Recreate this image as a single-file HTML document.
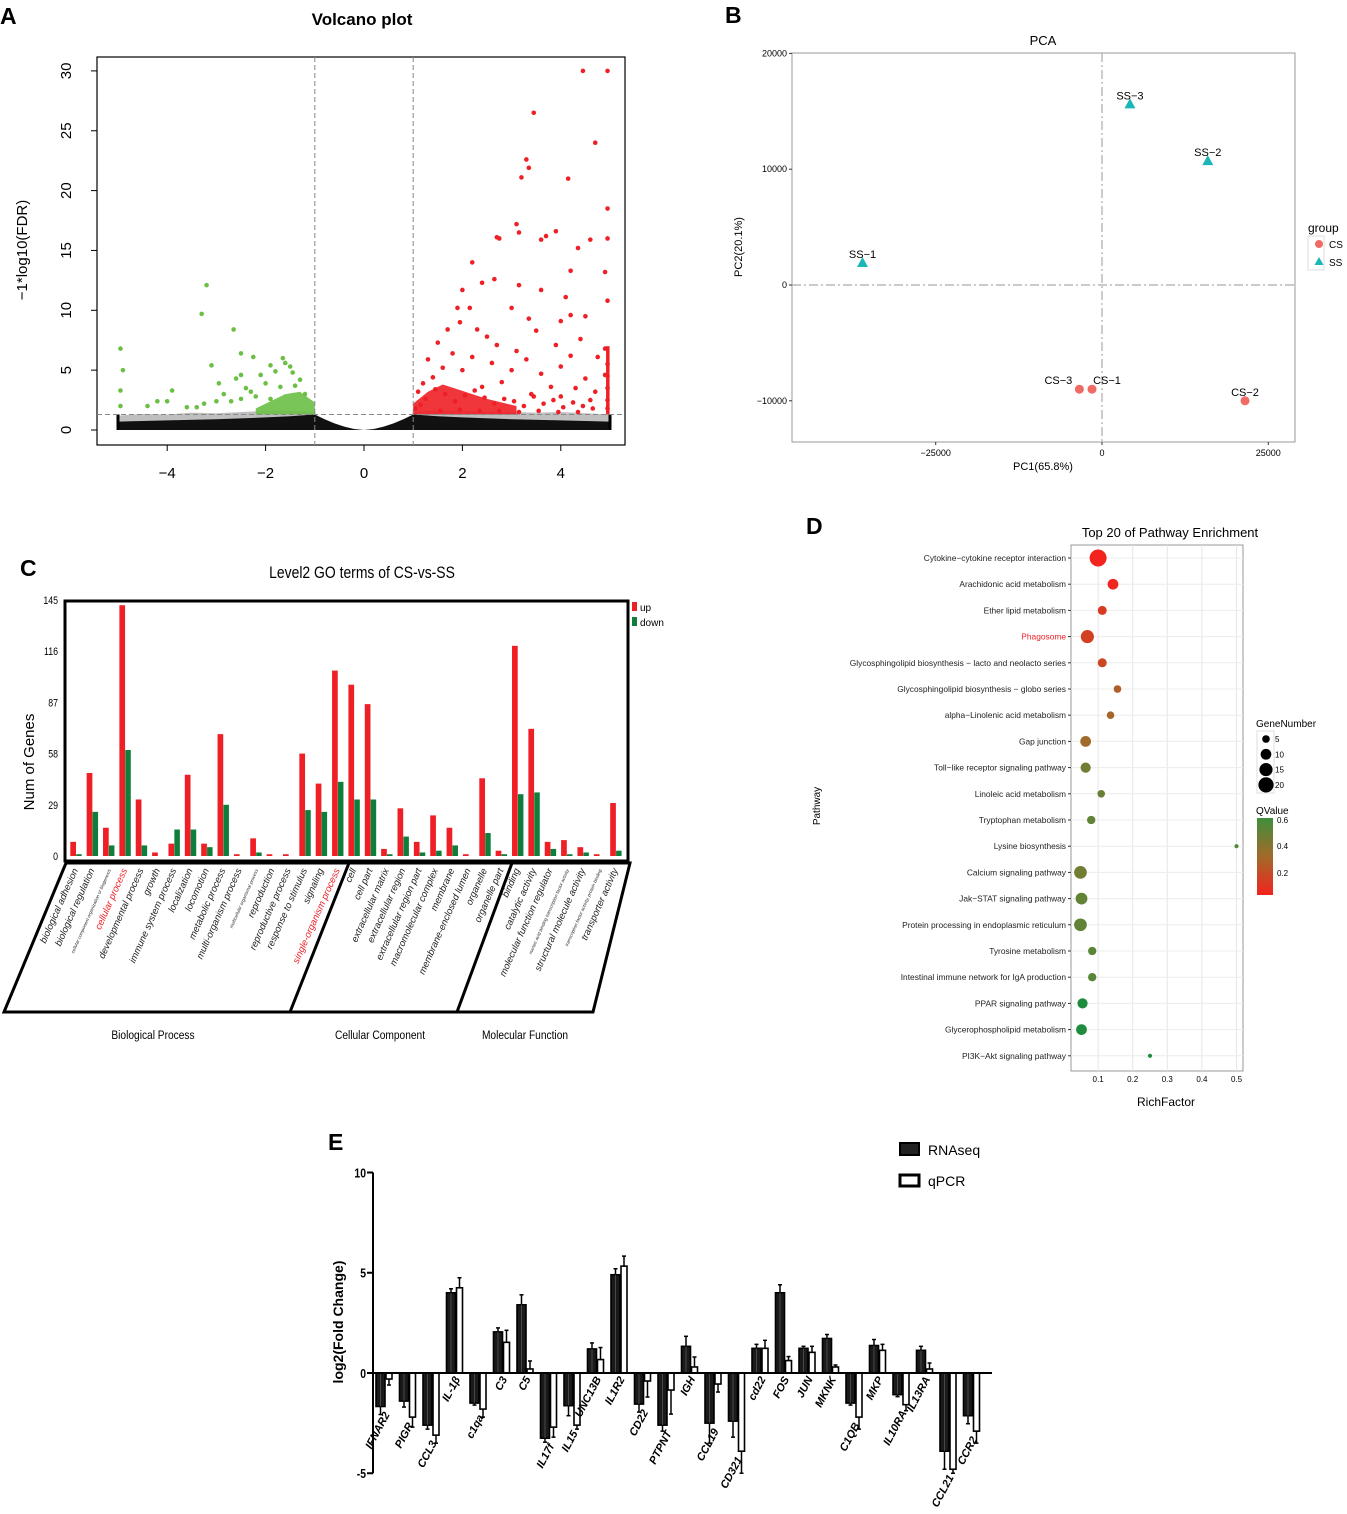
<!DOCTYPE html>
<html><head><meta charset="utf-8">
<style>
html,body{margin:0;padding:0;background:#fff;}
svg{display:block;font-family:"Liberation Sans",sans-serif;}
</style></head>
<body>
<svg id="fig" width="1347" height="1514" viewBox="0 0 1347 1514" xmlns="http://www.w3.org/2000/svg">
<rect x="0" y="0" width="1347" height="1514" fill="#fff"/>
<text x="0" y="24" font-size="23" font-weight="bold">A</text>
<text x="725" y="23" font-size="23" font-weight="bold">B</text>
<text x="20" y="576" font-size="23" font-weight="bold">C</text>
<text x="806" y="534" font-size="23" font-weight="bold">D</text>
<text x="328" y="1150" font-size="23" font-weight="bold">E</text>

<g id="pa">
<text x="362" y="25" font-size="17" font-weight="bold" text-anchor="middle">Volcano plot</text>
<text transform="translate(27,250) rotate(-90)" font-size="15" text-anchor="middle">−1*log10(FDR)</text>
</g>
<g id="pb">
<text x="1043" y="45" font-size="13" text-anchor="middle">PCA</text>
<text x="1043" y="470" font-size="11" text-anchor="middle">PC1(65.8%)</text>
<text transform="translate(742,247) rotate(-90)" font-size="11" text-anchor="middle">PC2(20.1%)</text>
<text x="1308" y="232" font-size="12">group</text>
<rect x="1308" y="236" width="16" height="34" fill="#fff" stroke="#ddd"/>
<circle cx="1319" cy="244" r="4" fill="#ef6b64"/>
<text x="1329" y="248" font-size="10">CS</text>
<polygon points="1319,257 1323.5,265 1314.5,265" fill="#1cb6b8"/>
<text x="1329" y="266" font-size="10">SS</text>
</g>
<g id="pc">
<text x="362" y="578" font-size="17" text-anchor="middle" transform="translate(362,0) scale(0.82,1) translate(-362,0)">Level2 GO terms of CS-vs-SS</text>
<text transform="translate(34,762) rotate(-90)" font-size="15" text-anchor="middle">Num of Genes</text>
<rect x="632" y="602" width="5" height="9" fill="#ee2026"/>
<text x="640" y="611" font-size="10">up</text>
<rect x="632" y="617" width="5" height="9" fill="#0e7f3a"/>
<text x="640" y="626" font-size="10">down</text>
<text x="153" y="1039" font-size="12" text-anchor="middle" transform="translate(153,0) scale(0.85,1) translate(-153,0)">Biological Process</text>
<text x="380" y="1039" font-size="12" text-anchor="middle" transform="translate(380,0) scale(0.85,1) translate(-380,0)">Cellular Component</text>
<text x="525" y="1039" font-size="12" text-anchor="middle" transform="translate(525,0) scale(0.85,1) translate(-525,0)">Molecular Function</text>
</g>
<g id="pd">
<text x="1170" y="537" font-size="13" text-anchor="middle">Top 20 of Pathway Enrichment</text>
<text x="1166" y="1106" font-size="12" text-anchor="middle">RichFactor</text>
<text transform="translate(820,806) rotate(-90)" font-size="10" text-anchor="middle">Pathway</text>
<text x="1256" y="727" font-size="10">GeneNumber</text>
<rect x="1257" y="731" width="17" height="62" fill="#fff" stroke="#ddd"/>
<text x="1256" y="814" font-size="10">QValue</text>
<defs><linearGradient id="qg" x1="0" y1="1" x2="0" y2="0"><stop offset="0" stop-color="#f3231e"/><stop offset="0.5" stop-color="#a26a2a"/><stop offset="1" stop-color="#3f8f3c"/></linearGradient></defs>
<rect x="1257" y="818" width="16" height="77" fill="url(#qg)"/>
<text x="1277" y="823" font-size="8">0.6</text>
<text x="1277" y="849" font-size="8">0.4</text>
<text x="1277" y="876" font-size="8">0.2</text>
</g>
<g id="pe">
<text transform="translate(343,1322) rotate(-90)" font-size="14" font-weight="bold" text-anchor="middle">log2(Fold Change)</text>
<rect x="900" y="1143" width="19" height="12" fill="#222" stroke="#000" stroke-width="2"/>
<text x="928" y="1155" font-size="14">RNAseq</text>
<rect x="900" y="1175" width="19" height="11" fill="#fff" stroke="#000" stroke-width="3"/>
<text x="928" y="1186" font-size="14">qPCR</text>
</g>
</svg>
<script>
var NS='http://www.w3.org/2000/svg';
var svg=document.getElementById('fig');
function mk(tag,parent,attrs){var e=document.createElementNS(NS,tag);for(var k in attrs)e.setAttribute(k,attrs[k]);(parent||svg).appendChild(e);return e;}

/* ===== Panel A data ===== */
var volXTicks=[-4,-2,0,2,4];
var volYTicks=[0,5,10,15,20,25,30];
var redX=[4.45,4.95,3.45,4.7,3.3,3.35,3.2,4.15,4.95,3.1,3.15,2.75,2.7,3.7,3.9,3.6,4.6,4.95,4.35,2.2,2.65,3.15,4.2,4.9,2.4,2.0,3.6,4.1,4.95,4.2,1.9,2.15,3.0,3.35,4.0,4.5,1.95,2.3,3.5,1.7,2.5,4.4,3.9,4.9,2.7,1.5,3.1,4.2,1.8,2.2,3.3,4.75,1.3,2.6,4.0,1.6,2.0,3.0,3.6,4.9,4.5,1.4,1.2,2.8,3.8,4.3,4.7,1.1,2.4,3.4,4.0,4.6,4.95,4.95,4.95,4.95,4.95,1.05,1.25,1.45,1.65,1.85,2.05,2.25,2.45,2.65,2.85,3.05,3.25,3.45,3.65,3.85,4.05,4.25,4.45,4.65,1.15,1.55,1.95,2.35,2.75,3.15,3.55,3.95,4.35];
var redY=[30,30,26.5,24,22.6,21.9,21.1,21,18.5,17.2,16.5,16,16.1,16.2,16.6,15.9,15.9,16,15.2,14,12.6,12.1,13.3,13.2,12.3,11.7,11.7,11.1,10.8,9.6,10.2,10.2,10.2,9.3,9.1,9.5,9,8.4,8.3,8.4,7.8,7.6,7.1,6.8,7.1,7.3,6.6,6.2,6.4,6.1,5.9,6.1,5.9,5.6,5.3,5.2,5.0,5.0,4.7,4.6,4.3,4.4,3.9,4.0,3.6,3.5,3.2,3.2,3.6,3.0,2.8,2.5,5.5,4.5,3.5,2.5,1.8,1.8,2.6,3.4,3.0,2.4,2.9,3.3,2.7,2.2,2.6,2.4,2.0,2.8,2.2,2.5,1.9,2.3,2.0,1.8,2.1,1.6,1.7,1.6,1.6,1.5,1.6,1.5,1.5];
var greenX=[-4.95,-4.9,-4.95,-4.95,-4.4,-4.2,-4.0,-3.9,-3.6,-3.4,-3.3,-3.25,-3.1,-3.0,-2.95,-3.2,-2.7,-2.65,-2.85,-2.5,-2.5,-2.4,-2.5,-2.25,-2.1,-2.6,-1.9,-2.0,-1.8,-1.65,-1.6,-1.5,-1.45,-1.3,-2.2,-1.7,-1.2,-1.4,-1.9,-2.3];
var greenY=[6.8,5.0,3.3,2.0,2.0,2.4,2.4,3.3,1.9,1.9,9.7,2.2,5.4,2.4,3.9,12.1,2.4,8.4,3.0,2.6,4.6,3.5,6.4,6.1,4.6,4.3,5.4,3.9,4.9,6.0,5.6,5.3,4.8,4.2,2.8,3.6,3.0,3.7,2.6,3.2];
var redDenseX=[1.0,1.3,1.6,1.9,2.2,2.5,2.8,3.1];
var redDenseTop=[2.2,3.2,3.8,3.4,3.0,2.6,2.3,2.0];
var greenDenseX=[-2.2,-1.9,-1.6,-1.3,-1.0];
var greenDenseTop=[1.8,2.4,3.0,3.2,2.3];
var blackX=[-5,-4,-3,-2,-1.5,-1,-0.8,-0.6,-0.4,-0.2,0,0.2,0.4,0.6,0.8,1,1.5,2,3,4,5];
var blackTop=[0.7,0.8,0.9,1.05,1.15,1.3,0.9,0.55,0.28,0.08,0,0.08,0.28,0.55,0.9,1.3,1.15,1.05,0.9,0.8,0.7];
var grayLeftX=[-5,-4.5,-4,-3.5,-3,-2.5,-2,-1.5,-1];
var grayLeftTop=[1.2,1.35,1.3,1.45,1.4,1.5,1.6,1.6,1.5];
var grayRightX=[1,1.5,2,2.5,3,3.5,4,4.5,5];
var grayRightTop=[1.5,1.65,1.6,1.55,1.5,1.45,1.5,1.4,1.3];

(function(){
var L=97,T=57,R=625,B=445;
function sx(v){return 364+v*49.2;}
function sy(v){return 430-v*11.97;}
var g=document.getElementById('pa');
var e;
e=mk('rect',g,{x:L,y:T,width:R-L,height:B-T,fill:'none',stroke:'#000','stroke-width':1.2});


volXTicks.forEach(function(t){
 e=mk('line',g,{x1:sx(t),x2:sx(t),y1:B,y2:B+6,stroke:'#000'});
 
 
 e=mk('text',g,{x:sx(t),y:B+33,'font-size':15,'text-anchor':'middle'});e.textContent=(t<0?'−':'')+Math.abs(t);
 
 
});
volYTicks.forEach(function(t){
 e=mk('line',g,{x1:L-6,x2:L,y1:sy(t),y2:sy(t),stroke:'#000'});
 
 
 e=mk('text',g,{transform:'translate(71,'+sy(t)+') rotate(-90)','font-size':15,'text-anchor':'middle'});e.textContent=t;
 
 
});
function band(xs,tops){
 var p='M'+sx(xs[0])+','+sy(0);
 xs.forEach(function(x,i){p+=' L'+sx(x)+','+sy(tops[i]);});
 p+=' L'+sx(xs[xs.length-1])+','+sy(0)+' Z';return p;}
e=mk('path',g,{d:band(grayLeftX,grayLeftTop),fill:'#aaa',opacity:0.75});


e=mk('path',g,{d:band(grayRightX,grayRightTop),fill:'#aaa',opacity:0.75});


e=mk('path',g,{d:band(blackX,blackTop),fill:'#111'});


[-5,5].forEach(function(x){
 e=mk('rect',g,{x:sx(x)-1.5,y:sy(1.3),width:3,height:sy(0)-sy(1.3),fill:'#000'});
 
 
});
e=mk('path',g,{d:band(redDenseX,redDenseTop).replace(/,430(?=\s|$| Z)/g,','+sy(1.3)),fill:'#ee2026',opacity:0.9});


e=mk('path',g,{d:band(greenDenseX,greenDenseTop).replace(/,430(?=\s|$| Z)/g,','+sy(1.3)),fill:'#6cbf45',opacity:0.9});


e=mk('rect',g,{x:sx(4.92),y:sy(7),width:3.5,height:sy(1.3)-sy(7),fill:'#ee2026'});


redX.forEach(function(x,i){
 e=mk('circle',g,{cx:sx(x),cy:sy(redY[i]),r:2.3,fill:'#ee2026'});
 
 
});
greenX.forEach(function(x,i){
 e=mk('circle',g,{cx:sx(x),cy:sy(greenY[i]),r:2.3,fill:'#6cbf45'});
 
 
});
[-1,1].forEach(function(x){
 e=mk('line',g,{x1:sx(x),x2:sx(x),y1:T,y2:B,stroke:'#888','stroke-dasharray':'5,3'});
 
 
});
e=mk('line',g,{x1:L,x2:R,y1:sy(1.3),y2:sy(1.3),stroke:'#888','stroke-dasharray':'5,3'});


})();

/* ===== Panel B data ===== */
var pcaNames=['SS-3','SS-2','SS-1','CS-3','CS-1','CS-2'];
var pcaGroup=['SS','SS','SS','CS','CS','CS'];
var pcaPC1=[4200,15900,-36000,-3400,-1500,21500];
var pcaPC2=[15600,10700,1900,-9000,-9000,-10000];
var pcaXTicks=[-25000,0,25000];
var pcaYTicks=[-10000,0,10000,20000];
(function(){
var L=792,T=53,R=1295,B=442;
function sx(v){return 1102+v*0.006652;}
function sy(v){return 285-v*0.01158;}
var g=document.getElementById('pb');var e;
e=mk('rect',g,{x:L,y:T,width:R-L,height:B-T,fill:'#fff',stroke:'#999','stroke-width':1});


e=mk('line',g,{x1:L,x2:R,y1:sy(0),y2:sy(0),stroke:'#aaa','stroke-width':1.2,'stroke-dasharray':'9,3,2,3'});


e=mk('line',g,{x1:sx(0),x2:sx(0),y1:T,y2:B,stroke:'#aaa','stroke-width':1.2,'stroke-dasharray':'9,3,2,3'});


pcaXTicks.forEach(function(t){
 e=mk('line',g,{x1:sx(t),x2:sx(t),y1:B,y2:B+3,stroke:'#333'});
 
 
 e=mk('text',g,{x:sx(t),y:B+14,'font-size':9,'text-anchor':'middle'});e.textContent=(t<0?'−':'')+Math.abs(t);
 
 
});
pcaYTicks.forEach(function(t){
 e=mk('line',g,{x1:L-3,x2:L,y1:sy(t),y2:sy(t),stroke:'#333'});
 
 
 e=mk('text',g,{x:L-5,y:sy(t)+3,'font-size':9,'text-anchor':'end'});e.textContent=(t<0?'−':'')+Math.abs(t);
 
 
});
pcaNames.forEach(function(n,i){
 var x=sx(pcaPC1[i]),y=sy(pcaPC2[i]);
 if(pcaGroup[i]==='SS'){
  e=mk('polygon',g,{points:x+','+(y-6)+' '+(x+5.5)+','+(y+4)+' '+(x-5.5)+','+(y+4),fill:'#1cb6b8'});
 }else{
  e=mk('circle',g,{cx:x,cy:y,r:4.5,fill:'#ef6b64'});
 }
 
 
 var dx=(n==='CS-3')?-21:(n==='CS-1'?15:0);
 e=mk('text',g,{x:x+dx,y:y-5,'font-size':11,'text-anchor':'middle'});e.textContent=n.replace('-','−');
 
 
});
})();

/* ===== Panel C data ===== */
var goTerms=['biological adhesion','biological regulation','cellular component organization or biogenesis','cellular process','developmental process','growth','immune system process','localization','locomotion','metabolic process','multi-organism process','multicellular organismal process','reproduction','reproductive process','response to stimulus','signaling','single-organism process','cell','cell part','extracellular matrix','extracellular region','extracellular region part','macromolecular complex','membrane','membrane-enclosed lumen','organelle','organelle part','binding','catalytic activity','molecular function regulator','nucleic acid binding transcription factor activity','structural molecule activity','transcription factor activity, protein binding','transporter activity'];
var goUp=[8,47,16,142,32,2,7,46,7,69,1,10,1,1,58,41,105,97,86,4,27,8,23,16,1,44,3,119,72,8,9,5,1,30];
var goDown=[1,25,6,60,6,0,15,15,5,29,0,2,0,0,26,25,42,32,32,1,11,2,3,6,0,13,1,35,36,4,1,2,0,3];
var goYTicks=[0,29,58,87,116,145];
var goHighlight=['cellular process','single-organism process'];
var goSmall=['cellular component organization or biogenesis','multicellular organismal process','nucleic acid binding transcription factor activity','transcription factor activity, protein binding'];
(function(){
var L=65,T=601,R=628,B=861;
function sy(v){return 856-v*1.766;}
function sx(i){return 70.3+i*16.36;}
var g=document.getElementById('pc');var e;
e=mk('rect',g,{x:L,y:T,width:R-L,height:B-T,fill:'none',stroke:'#000','stroke-width':3});


goYTicks.forEach(function(t){
 e=mk('text',g,{x:58,y:sy(t)+4,'font-size':11,'text-anchor':'end',transform:'translate(58,0) scale(0.8,1) translate(-58,0)'});e.textContent=t;
 
 
});
goTerms.forEach(function(t,i){
 e=mk('rect',g,{x:sx(i),y:sy(goUp[i]),width:5.7,height:sy(0)-sy(goUp[i]),fill:'#ee2026'});
 
 
 e=mk('rect',g,{x:sx(i)+5.9,y:sy(goDown[i]),width:5.5,height:sy(0)-sy(goDown[i]),fill:'#0e7f3a'});
 
 
 var small=goSmall.indexOf(t)>=0;
 var cx=sx(i)+8;
 e=mk('text',g,{transform:'translate('+cx+',870) rotate(-66)','font-size':small?4.5:9.5,'font-style':'italic','text-anchor':'end',fill:goHighlight.indexOf(t)>=0?'#ee2026':'#222'});e.textContent=t;
 
 
});
e=mk('path',g,{d:'M66,863 L630,863 L593,1012 L4,1012 Z',fill:'none',stroke:'#000','stroke-width':3});


e=mk('line',g,{x1:349,y1:863,x2:290,y2:1012,stroke:'#000','stroke-width':3});


e=mk('line',g,{x1:512,y1:863,x2:457,y2:1012,stroke:'#000','stroke-width':3});


})();

/* ===== Panel D data ===== */
var pwNames=['Cytokine−cytokine receptor interaction','Arachidonic acid metabolism','Ether lipid metabolism','Phagosome','Glycosphingolipid biosynthesis − lacto and neolacto series','Glycosphingolipid biosynthesis − globo series','alpha−Linolenic acid metabolism','Gap junction','Toll−like receptor signaling pathway','Linoleic acid metabolism','Tryptophan metabolism','Lysine biosynthesis','Calcium signaling pathway','Jak−STAT signaling pathway','Protein processing in endoplasmic reticulum','Tyrosine metabolism','Intestinal immune network for IgA production','PPAR signaling pathway','Glycerophospholipid metabolism','PI3K−Akt signaling pathway'];
var pwRich=[0.100,0.143,0.112,0.069,0.112,0.156,0.136,0.064,0.064,0.109,0.080,0.500,0.049,0.052,0.049,0.083,0.083,0.055,0.052,0.250];
var pwGenes=[25,10,7,15,7,5,5,10,9,5,6,1.5,14,12,14,6,6,9,10,1.5];
var pwQ=[0.0,0.02,0.1,0.12,0.15,0.25,0.28,0.3,0.45,0.48,0.5,0.55,0.45,0.5,0.5,0.52,0.52,0.7,0.7,0.7];
var pwXTicks=[0.1,0.2,0.3,0.4,0.5];
var pwLegendGenes=[5,10,15,20];
(function(){
var L=1071,T=545,R=1243,B=1071;
function sx(v){return 1063.5+v*346;}
function sy(i){return 558+i*26.2;}
function rad(n){return Math.sqrt(n)*1.7;}
function col(q){var t=Math.min(q/0.6,1);var a=[243,35,30],m=[162,106,42],b=[63,143,60];
 var c=t<0.5?[0,1,2].map(function(k){return a[k]+(m[k]-a[k])*t*2;}):[0,1,2].map(function(k){return m[k]+(b[k]-m[k])*(t-0.5)*2;});
 if(q>0.6){c=[30,140,60];}
 return 'rgb('+c.map(Math.round).join(',')+')';}
var g=document.getElementById('pd');var e;
e=mk('rect',g,{x:L,y:T,width:R-L,height:B-T,fill:'#fff',stroke:'#999'});


pwXTicks.forEach(function(t){
 e=mk('line',g,{x1:sx(t),x2:sx(t),y1:T,y2:B,stroke:'#e6e6e6'});
 
 
 e=mk('text',g,{x:sx(t),y:B+11,'font-size':8,'text-anchor':'middle'});e.textContent=t;
 
 
});
pwNames.forEach(function(n,i){
 e=mk('line',g,{x1:L,x2:R,y1:sy(i),y2:sy(i),stroke:'#ececec'});
 
 
 e=mk('line',g,{x1:L-3,x2:L,y1:sy(i),y2:sy(i),stroke:'#333'});
 
 
 e=mk('text',g,{x:L-5,y:sy(i)+3,'font-size':8.4,'text-anchor':'end',fill:n==='Phagosome'?'#ee2026':'#222'});e.textContent=n;
 
 
});
pwNames.forEach(function(n,i){
 e=mk('circle',g,{cx:sx(pwRich[i]),cy:sy(i),r:rad(pwGenes[i]),fill:col(pwQ[i])});
 
 
});
pwLegendGenes.forEach(function(n,i){
 var y=739+i*15.3;
 e=mk('circle',g,{cx:1266,cy:y,r:rad(n),fill:'#000'});
 
 
 e=mk('text',g,{x:1275,y:y+3,'font-size':8});e.textContent=n;
 
 
});
})();

/* ===== Panel E data ===== */
var genes=['IFNAR2','PIGR','CCL3','IL-1β','c1qa','C3','C5','IL17f','IL15','UNC13B','IL1R2','CD22','PTPNT','IGH','CCL19','CD321','cd22','FOS','JUN','MKNK','C1QB','MKP','IL10RA','IL13RA','CCL21','CCR2'];
var rnaseq=[-1.67,-1.4,-2.6,4.0,-1.5,2.05,3.4,-3.25,-1.63,1.2,4.9,-1.55,-2.6,1.33,-2.5,-2.4,1.23,4.0,1.23,1.72,-1.5,1.37,-1.08,1.13,-3.9,-2.13];
var qpcr=[-0.3,-2.2,-3.1,4.25,-1.8,1.53,0.2,-2.7,-2.6,0.67,5.33,-0.4,-0.85,0.3,-0.55,-3.9,1.23,0.62,1.03,0.3,-2.2,1.13,-1.58,0.2,-4.8,-2.9];
var rnaErr=[0.4,0.3,0.2,0.2,0.1,0.2,0.5,0.2,0.5,0.3,0.3,0.4,0.3,0.5,1.0,0.8,0.2,0.4,0.1,0.2,0.1,0.3,0.1,0.2,0.9,0.4];
var qErr=[0.3,0.5,0.4,0.5,0.4,0.6,0.4,0.5,0.2,0.6,0.5,0.8,1.2,0.5,0.4,1.1,0.4,0.2,0.3,0.1,0.6,0.3,0.3,0.3,0.2,0.6];
var eYTicks=[10,5,0,-5];
(function(){
function sy(v){return 1373-v*20.05;}
function sx(i){return 384+i*23.5;}
var g=document.getElementById('pe');var e;
e=mk('line',g,{x1:373,x2:373,y1:sy(10),y2:sy(-5),stroke:'#000','stroke-width':2});


eYTicks.forEach(function(t){
 e=mk('line',g,{x1:367,x2:373,y1:sy(t),y2:sy(t),stroke:'#000','stroke-width':2});
 
 
 e=mk('text',g,{x:366,y:sy(t)+5,'font-size':13,'font-weight':'bold','text-anchor':'end',transform:'translate(366,0) scale(0.8,1) translate(-366,0)'});e.textContent=t;
 
 
});
function bar(x,w,v,err,fill,name){
 var y0=sy(0),y1=sy(v);
 var ye=sy(v+(v>=0?err:-err));
 var el=mk('line',g,{x1:x+w/2,x2:x+w/2,y1:y1,y2:ye,stroke:'#000','stroke-width':1.5});
 
 
 el=mk('line',g,{x1:x+w/2-2,x2:x+w/2+2,y1:ye,y2:ye,stroke:'#000','stroke-width':1.5});
 
 
 el=mk('rect',g,{x:x,y:Math.min(y0,y1),width:w,height:Math.abs(y1-y0),fill:fill,stroke:'#000','stroke-width':1.6});
 
 
}
genes.forEach(function(n,i){
 var c=sx(i);
 bar(c-8,9,rnaseq[i],rnaErr[i],'#1a1a1a','rnaseq-bar');
 e=mk('line',g,{x1:c-3.5,x2:c-3.5,y1:sy(0),y2:sy(rnaseq[i]),stroke:'#555','stroke-width':0.8});
 
 
 bar(c+2,6,qpcr[i],qErr[i],'#fff','qpcr-bar');
 var low=Math.min(0,rnaseq[i],qpcr[i]);
 var ly=sy(low)+(low<0?8:6);
 e=mk('text',g,{transform:'translate('+(c+6)+','+ly+') rotate(-62)','font-size':11,'font-weight':'bold','font-style':'italic','text-anchor':'end'});e.textContent=n;
 
 
});
e=mk('line',g,{x1:373,x2:992,y1:sy(0),y2:sy(0),stroke:'#000','stroke-width':2});


})();
</script>
</body></html>
